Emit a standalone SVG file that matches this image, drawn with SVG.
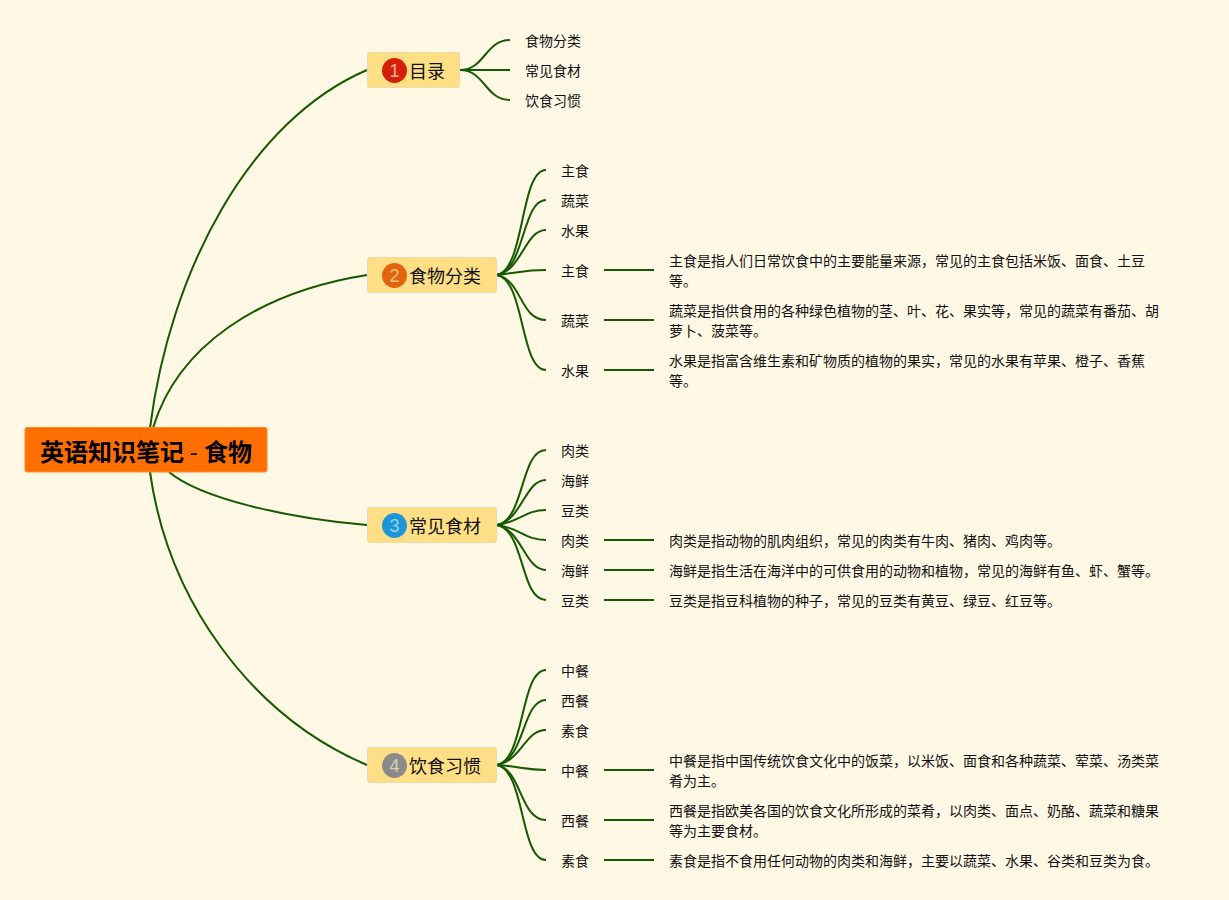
<svg xmlns="http://www.w3.org/2000/svg" width="1229" height="900" viewBox="0 0 1229 900">
<style>
text{font-family:"Noto Sans CJK SC","Noto Sans",sans-serif;fill:#111}
.s{font-size:14px}
.t{font-size:18px}
.r{font-size:24px;font-weight:700;fill:#000}
.n{font-family:"Liberation Sans",sans-serif;font-size:18px;text-anchor:middle}
.topic{fill:#ffdf85;stroke:#ebdcae;stroke-width:1}
#connectors path{fill:none;stroke:#155a00;stroke-width:2}
</style>
<rect width="1229" height="900" fill="#fff8e5"/>
<g id="connectors">
<path d="M150,428C170,270 250,120 367,70"/>
<path d="M153,428C178,345 260,292 367,275"/>
<path d="M169,472C200,498 285,518 367,525"/>
<path d="M150,472C168,600 250,715 367,765"/>
<path d="M460,70C485,70 485,40 510,40"/>
<path d="M460,70H510"/>
<path d="M460,70C485,70 485,100 510,100"/>
<path d="M497,275C525,270 520,170 546,170"/>
<path d="M497,275C525,270 522,200 546,200"/>
<path d="M497,275C522,270 525,230 546,230"/>
<path d="M497,275C522,272 525,270 546,270"/>
<path d="M497,275C522,280 520,320 546,320"/>
<path d="M497,275C525,280 520,370 546,370"/>
<path d="M604,270H654M604,320H654M604,370H654"/>
<path d="M497,525C525,520 520,450 546,450"/>
<path d="M497,525C522,520 525,480 546,480"/>
<path d="M497,525C520,522 525,510 546,510"/>
<path d="M497,525C520,528 525,540 546,540"/>
<path d="M497,525C522,530 525,570 546,570"/>
<path d="M497,525C525,530 520,600 546,600"/>
<path d="M604,540H654M604,570H654M604,600H654"/>
<path d="M497,765C525,760 520,670 546,670"/>
<path d="M497,765C525,760 522,700 546,700"/>
<path d="M497,765C522,760 525,730 546,730"/>
<path d="M497,765C522,767 525,770 546,770"/>
<path d="M497,765C522,770 520,820 546,820"/>
<path d="M497,765C525,770 520,860 546,860"/>
<path d="M604,770H654M604,820H654M604,860H654"/>
</g>
<g id="root"><rect x="25" y="427.5" width="242" height="44.5" rx="2" fill="#ff6f00" stroke="#ff8a20"/><text class="r" x="40" y="461">英语知识笔记 <tspan style="font-weight:400">-</tspan> <tspan x="204">食物</tspan></text></g>
<g id="topic1"><rect class="topic" x="367.5" y="52.5" width="92" height="35" rx="2"/><circle cx="394.5" cy="70.5" r="12.5" fill="#d4200a"/><text class="n" x="394.5" y="76.5" style="fill:#ffb09a">1</text><text class="t" x="409" y="78">目录</text></g>
<g id="topic2"><rect class="topic" x="367.5" y="257.5" width="129" height="35" rx="2"/><circle cx="394.5" cy="275.5" r="12.5" fill="#e2640f"/><text class="n" x="394.5" y="281.5" style="fill:#ffc080">2</text><text class="t" x="409" y="283">食物分类</text></g>
<g id="topic3"><rect class="topic" x="367.5" y="507.5" width="129" height="35" rx="2"/><circle cx="394.5" cy="525.5" r="12.5" fill="#1f95d6"/><text class="n" x="394.5" y="531.5" style="fill:#8fd5f5">3</text><text class="t" x="409" y="533">常见食材</text></g>
<g id="topic4"><rect class="topic" x="367.5" y="747.5" width="129" height="35" rx="2"/><circle cx="394.5" cy="765.5" r="12.5" fill="#8a8a8a"/><text class="n" x="394.5" y="771.5" style="fill:#d8d0b0">4</text><text class="t" x="409" y="773">饮食习惯</text></g>
<g id="leaves">
<text class="s" x="525" y="46">食物分类</text>
<text class="s" x="525" y="76">常见食材</text>
<text class="s" x="525" y="106">饮食习惯</text>
<text class="s" x="561" y="176">主食</text>
<text class="s" x="561" y="206">蔬菜</text>
<text class="s" x="561" y="236">水果</text>
<text class="s" x="561" y="276">主食</text>
<text class="s" x="561" y="326">蔬菜</text>
<text class="s" x="561" y="376">水果</text>
<text class="s" x="669" y="266">主食是指人们日常饮食中的主要能量来源，常见的主食包括米饭、面食、土豆</text>
<text class="s" x="669" y="286">等。</text>
<text class="s" x="669" y="316">蔬菜是指供食用的各种绿色植物的茎、叶、花、果实等，常见的蔬菜有番茄、胡</text>
<text class="s" x="669" y="336">萝卜、菠菜等。</text>
<text class="s" x="669" y="366">水果是指富含维生素和矿物质的植物的果实，常见的水果有苹果、橙子、香蕉</text>
<text class="s" x="669" y="386">等。</text>
<text class="s" x="561" y="456">肉类</text>
<text class="s" x="561" y="486">海鲜</text>
<text class="s" x="561" y="516">豆类</text>
<text class="s" x="561" y="546">肉类</text>
<text class="s" x="561" y="576">海鲜</text>
<text class="s" x="561" y="606">豆类</text>
<text class="s" x="669" y="546">肉类是指动物的肌肉组织，常见的肉类有牛肉、猪肉、鸡肉等。</text>
<text class="s" x="669" y="576">海鲜是指生活在海洋中的可供食用的动物和植物，常见的海鲜有鱼、虾、蟹等。</text>
<text class="s" x="669" y="606">豆类是指豆科植物的种子，常见的豆类有黄豆、绿豆、红豆等。</text>
<text class="s" x="561" y="676">中餐</text>
<text class="s" x="561" y="706">西餐</text>
<text class="s" x="561" y="736">素食</text>
<text class="s" x="561" y="776">中餐</text>
<text class="s" x="561" y="826">西餐</text>
<text class="s" x="561" y="866">素食</text>
<text class="s" x="669" y="766">中餐是指中国传统饮食文化中的饭菜，以米饭、面食和各种蔬菜、荤菜、汤类菜</text>
<text class="s" x="669" y="786">肴为主。</text>
<text class="s" x="669" y="816">西餐是指欧美各国的饮食文化所形成的菜肴，以肉类、面点、奶酪、蔬菜和糖果</text>
<text class="s" x="669" y="836">等为主要食材。</text>
<text class="s" x="669" y="866">素食是指不食用任何动物的肉类和海鲜，主要以蔬菜、水果、谷类和豆类为食。</text>
</g>
</svg>
